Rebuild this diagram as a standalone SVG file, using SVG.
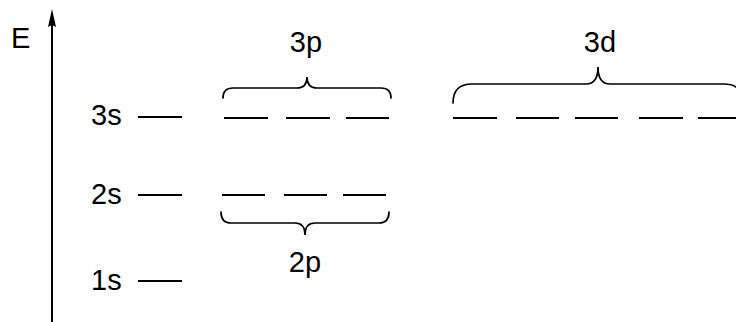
<svg xmlns="http://www.w3.org/2000/svg" width="736" height="322" viewBox="0 0 736 322">
<style>
.t{font-family:"Liberation Sans",Arial,sans-serif;font-size:29px;fill:#000}
.l{stroke:#000;stroke-width:1.8;fill:none}
.b{stroke:#000;stroke-width:1.7;fill:none;stroke-linecap:round}
</style>
<rect width="736" height="322" fill="#fff"/>
<g id="axis">
<line x1="52" y1="322" x2="52" y2="22" stroke="#000" stroke-width="2"/>
<path d="M52,9 L56,27 L52,25 L48,27 Z" fill="#000"/>
<text class="t" x="11" y="48">E</text>
</g>
<g id="level-1s">
<text class="t" x="91" y="290">1s</text>
<line class="l" x1="138" y1="281" x2="182" y2="281"/>
</g>
<g id="level-2s">
<text class="t" x="91" y="204">2s</text>
<line class="l" x1="138" y1="195" x2="182" y2="195"/>
</g>
<g id="level-3s">
<text class="t" x="91" y="125">3s</text>
<line class="l" x1="138" y1="117" x2="182" y2="117"/>
</g>
<g id="level-2p">
<line class="l" x1="222" y1="195" x2="265" y2="195"/>
<line class="l" x1="284" y1="195" x2="327" y2="195"/>
<line class="l" x1="343" y1="195" x2="386" y2="195"/>
<path class="b" d="M221,212 Q221,223 231,223 L295,223 Q305,223 305,235 Q305,223 315,223 L379,223 Q389,223 389,212"/>
<text class="t" x="305" y="272" text-anchor="middle">2p</text>
</g>
<g id="level-3p">
<line class="l" x1="224" y1="118" x2="268" y2="118"/>
<line class="l" x1="286" y1="118" x2="330" y2="118"/>
<line class="l" x1="346" y1="118" x2="389" y2="118"/>
<path class="b" d="M223,98 Q223,88 233,88 L297,88 Q307,88 307,77 Q307,88 317,88 L381,88 Q391,88 391,98"/>
<text class="t" x="306" y="52" text-anchor="middle">3p</text>
</g>
<g id="level-3d">
<line class="l" x1="453" y1="118" x2="497" y2="118"/>
<line class="l" x1="516" y1="118" x2="559" y2="118"/>
<line class="l" x1="575" y1="118" x2="618" y2="118"/>
<line class="l" x1="639" y1="118" x2="683" y2="118"/>
<line class="l" x1="698" y1="118" x2="742" y2="118"/>
<path class="b" d="M453,103 Q453,84 472,84 L586,84 Q598,84 598,67 Q598,84 610,84 L724,84 Q743,84 743,103"/>
<text class="t" x="600" y="52" text-anchor="middle">3d</text>
</g>
</svg>
